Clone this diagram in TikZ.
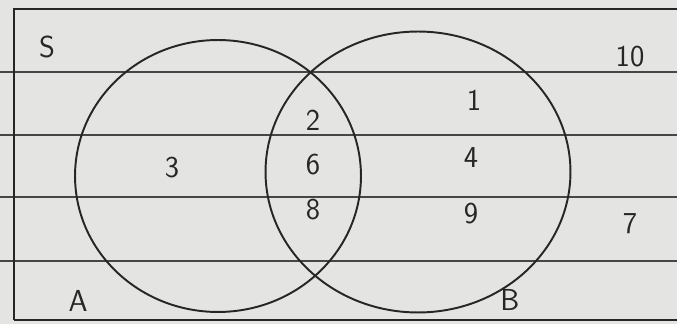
\documentclass[tikz,border=0pt]{standalone}
\usepackage{xcolor}
\usepackage{tikz}
\usetikzlibrary{shapes.geometric,positioning}

\definecolor{paper}{RGB}{228,228,226}
\definecolor{ink}{RGB}{40,38,36}
\definecolor{rule}{RGB}{70,70,70}

\begin{document}
\begin{tikzpicture}[x=0.02cm,y=-0.02cm,
  set/.style={draw=ink,line width=1.1pt,ellipse,inner sep=0pt},
  num/.style={text=ink,font=\LARGE\sffamily,inner sep=1pt},
  ruling/.style={draw=rule,line width=0.8pt}]
  % paper
  \fill[paper] (0,0) rectangle (677,324);
  \useasboundingbox (0,0) rectangle (677,324);
  \foreach \y in {72,135,197,261}
    \draw[ruling] (0,\y) -- (677,\y);
  % universal set
  \draw[ink,line width=1.3pt] (14,320) -- (14,9) -- (690,9);
  \draw[ink,line width=1.3pt] (14,320) -- (677,320);
  % the two sets
  \node[set,minimum width=5.72cm,minimum height=5.44cm] (setA) at (218,176) {};
  \node[set,minimum width=6.1cm,minimum height=5.62cm] (setB) at (418,172) {};
  % labels
  \node[num] (S) at (47,47) {S};
  \node[num] (lA) at (78,301) {A};
  \node[num] (lB) at (510,300) {B};
  \node[num] (n3) at (172,168) {3};
  \node[num] (n2) at (313,120) {2};
  \node[num,below=0.4cm of n2] (n6) {6};
  \node[num,below=0.4cm of n6] (n8) {8};
  \node[num] (n1) at (474,100) {1};
  \node[num] (n4) at (471,158) {4};
  \node[num] (n9) at (471,214) {9};
  \node[num] (n10) at (630,57) {10};
  \node[num] (n7) at (630,224) {7};
\end{tikzpicture}
\end{document}
